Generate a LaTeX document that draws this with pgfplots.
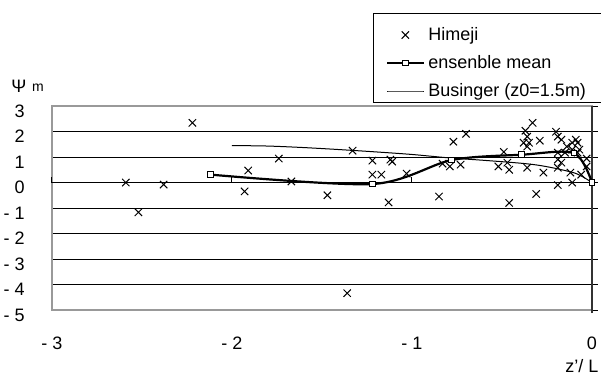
\documentclass[border=0pt]{standalone}
\usepackage{pgfplots}
\pgfplotsset{compat=1.18}
\usepackage{fontspec}
\setmainfont{Liberation Sans}
\begin{document}
\begin{tikzpicture}
\useasboundingbox (0,0) rectangle (300.5pt,188pt);
\begin{axis}[
  at={(26pt,33pt)}, anchor=south west,
  scale only axis, width=270pt, height=102pt,
  xmin=-3, xmax=0, ymin=-5, ymax=3,
  xtick={-3,-2,-1,0}, xticklabels={- 3,- 2,- 1,0},
  ytick={-5,-4,...,3}, yticklabels={- 5,- 4,- 3,- 2,- 1,0,1,2,3},
  ytick pos=right, yticklabel pos=left,
  xtick style={draw=none},
  ytick style={black, line width=0.5pt},
  tick align=outside, major tick length=3pt,
  ymajorgrids, major grid style={black, line width=0.5pt},
  axis line style={draw=gray!80, line width=0.6pt},
  tick label style={font=\fontsize{9}{10}\selectfont},
  xticklabel style={anchor=center, yshift=-13.5pt, inner sep=0pt},
  yticklabel style={anchor=east, xshift=-10.5pt, yshift=-2.5pt, inner sep=0pt},
  clip=false,
  legend style={at={(0.594,1.456)}, anchor=north west, draw=black, line width=0.5pt,
    font=\fontsize{9}{10}\selectfont, legend cell align=left, row sep=0pt,
    inner xsep=6.5pt, inner ysep=1.25pt, fill=white,
    nodes={inner ysep=1.5pt, text height=10.5pt, text depth=0.5pt}},
  legend image code/.code={%
    \draw[mark repeat=2,mark phase=2,#1] plot coordinates {(0pt,-2.5pt) (9pt,-2.5pt) (18pt,-2.5pt)};},
]
% x-axis line at y=0 and right axis at x=0
\draw[black, line width=0.6pt] (axis cs:-3,0) -- (axis cs:0,0);
\draw[black!80, line width=0.8pt] ([yshift=-1.5pt]axis cs:0,-5) -- (axis cs:0,3);
\draw[black, line width=0.5pt] (axis cs:-3,0) -- ([yshift=3pt]axis cs:-3,0);
\draw[black, line width=0.5pt] (axis cs:-2,0) -- ([yshift=3pt]axis cs:-2,0);
\draw[black, line width=0.5pt] (axis cs:-1,0) -- ([yshift=3pt]axis cs:-1,0);
\addplot[only marks, mark=x, mark size=2.6pt, mark options={line width=0.5pt, black}] coordinates {
(-2.22,2.34) (-2.59,0.0) (-2.38,-0.08) (-2.52,-1.17)
(-1.91,0.47) (-1.93,-0.35) (-1.74,0.94) (-1.67,0.04) (-1.47,-0.5)
(-1.33,1.25) (-1.22,0.86) (-1.12,0.9) (-1.11,0.82) (-1.22,0.31) (-1.17,0.31)
(-1.13,-0.78) (-1.03,0.35) (-1.36,-4.34)
(-0.77,1.6) (-0.70,1.91) (-0.83,0.74) (-0.79,0.63) (-0.73,0.7) (-0.85,-0.55)
(-0.49,1.2) (-0.52,0.63) (-0.47,0.78) (-0.46,0.5) (-0.46,-0.8)
(-0.31,-0.45) (-0.19,-0.10) (-0.11,0.0)
(-0.33,2.34) (-0.37,2.03) (-0.36,1.8) (-0.38,1.56) (-0.35,1.56) (-0.36,1.41)
(-0.29,1.64) (-0.36,0.58) (-0.27,0.39)
(-0.20,1.99) (-0.19,1.8) (-0.17,1.68) (-0.14,1.41) (-0.11,1.56) (-0.09,1.68)
(-0.08,1.56) (-0.11,1.29) (-0.15,1.17) (-0.19,1.17) (-0.19,0.9) (-0.17,0.78)
(-0.19,0.58) (-0.12,0.39) (-0.03,0.94) (-0.03,0.63) (-0.07,1.29) (-0.08,1.17)
(-0.06,0.31)
};
\addlegendentry{Himeji}
\addplot[black, line width=1.1pt, smooth, mark=square*, mark size=1.4pt,
  mark options={fill=white, line width=0.5pt}] coordinates {
(-2.12,0.31) (-1.22,-0.06) (-0.78,0.88) (-0.39,1.09) (-0.1,1.15) (0,0)
};
\addlegendentry{ensenble mean}
\addplot[black, line width=0.5pt, smooth] coordinates {
(-2.0,1.45) (-1.8,1.43) (-1.6,1.37) (-1.4,1.29) (-1.2,1.2) (-1.0,1.1)
(-0.8,0.97) (-0.6,0.87) (-0.4,0.76) (-0.3,0.68) (-0.2,0.55) (-0.1,0.38)
(-0.05,0.22) (0,0)
};
\addlegendentry{Businger (z0=1.5m)}
\end{axis}
\node[font=\fontsize{9}{10}\selectfont, inner sep=0pt] at (9.5pt,145pt) {Ψ};
\node[font=\fontsize{7}{8}\selectfont, inner sep=0pt] at (19pt,144pt) {m};
\node[font=\fontsize{9}{10}\selectfont, inner sep=0pt] at (291pt,5pt) {z'/ L};
\end{tikzpicture}
\end{document}
